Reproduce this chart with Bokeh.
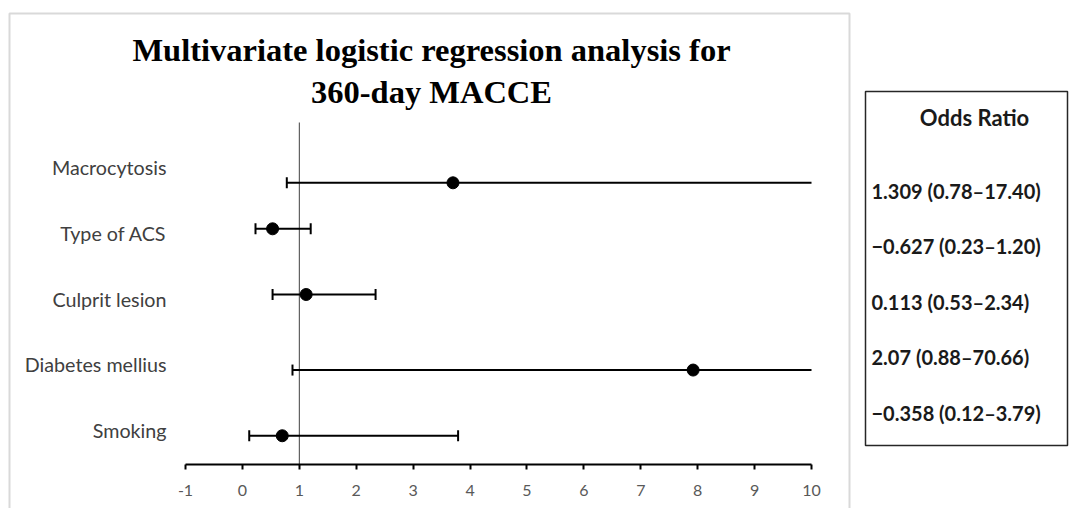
import math
from bokeh.plotting import figure
from bokeh.models import Range1d, FixedTicker
from bokeh.embed import file_html
from bokeh.resources import INLINE
from bokeh.core.properties import value

# ---------------- data ----------------
title_lines = ["Multivariate logistic regression analysis for", "360-day MACCE"]
variables = ["Macrocytosis", "Type of ACS", "Culprit lesion", "Diabetes mellius", "Smoking"]
odds_ratio = [3.70, 0.53, 1.12, 7.92, 0.70]
ci_lower = [0.78, 0.23, 0.53, 0.88, 0.12]
ci_upper = [17.40, 1.20, 2.34, 70.66, 3.79]
coef_text = ["1.309", "\u22120.627", "0.113", "2.07", "\u22120.358"]
label_rows = [5, 4, 3, 2, 1]
point_rows = [4.77, 4.07, 3.07, 1.92, 0.92]
x_ticks = [-1, 0, 1, 2, 3, 4, 5, 6, 7, 8, 9, 10]
x_tick_labels = ["-1", "0", "1", "2", "3", "4", "5", "6", "7", "8", "9", "10"]
table_header = "Odds Ratio"
reference_line = 1

table_text = [f"{c} ({lo:.2f}\u2013{hi:.2f})" for c, lo, hi in zip(coef_text, ci_lower, ci_upper)]

# ---------------- layout constants (pixels) ----------------
W, H = 1070, 508
AX_LEFT, AX_RIGHT = 185, 811          # pixel of x=-1 and x=10
AXIS_Y = 464                          # pixel of the x axis line
ROW1_Y, ROW_STEP = 430, 65.7          # pixel of label row 1 and row spacing
x_min, x_max = x_ticks[0], x_ticks[-1]
ux = (AX_RIGHT - AX_LEFT) / (x_max - x_min)
x_start = x_min - AX_LEFT / ux
x_end = x_max + (W - AX_RIGHT) / ux
y_start = 1 - (H - ROW1_Y) / ROW_STEP
y_end = 1 + ROW1_Y / ROW_STEP
axis_loc = 1 - (AXIS_Y - ROW1_Y) / ROW_STEP

p = figure(width=W, height=H, x_range=Range1d(x_start, x_end), y_range=Range1d(y_start, y_end),
           output_backend="svg", toolbar_location=None, y_axis_location=None)
p.extra_x_ranges = {"px": Range1d(0, W)}
p.extra_y_ranges = {"px": Range1d(H, 0)}
p.min_border = 0
p.min_border_left = 0
p.min_border_right = 0
p.min_border_top = 0
p.min_border_bottom = 0
p.outline_line_color = None
p.grid.visible = False
p.background_fill_color = "white"
p.border_fill_color = "white"

xa = p.xaxis[0]
xa.fixed_location = axis_loc
xa.bounds = (x_min, x_max)
xa.ticker = FixedTicker(ticks=x_ticks)
xa.major_label_overrides = {t: s for t, s in zip(x_ticks, x_tick_labels)}
xa.axis_line_color = "black"
xa.axis_line_width = 2
xa.major_tick_line_color = "black"
xa.major_tick_line_width = 2
xa.major_tick_out = 5
xa.major_tick_in = 0
xa.minor_tick_line_color = None
xa.major_label_text_font = "Lato"
xa.major_label_text_font_size = "16px"
xa.major_label_text_color = "#595959"
xa.major_label_standoff = 15

# outer light-grey chart border
p.quad(left=9, right=849, top=13, bottom=H + 20, x_range_name="px", y_range_name="px",
       fill_alpha=0, line_color="#d9d9d9", line_width=2)

# title
p.text(x=[431, 431], y=[49, 91], text=title_lines, x_range_name="px", y_range_name="px",
       text_align="center", text_baseline="middle", text_font=value("Liberation Serif"),
       text_font_style="bold", text_font_size="32.5px", text_color="black")

# reference line at OR = 1
p.segment(x0=reference_line, y0=122, x1=reference_line, y1=AXIS_Y, y_range_name="px",
          line_color="#404040", line_width=1)

# category labels
p.text(x=166, y=label_rows, text=variables, x_range_name="px", text_align="right",
       text_baseline="middle", text_font=value("Lato"), text_font_size="19.7px",
       text_color="#404040")

# error bars (clipped at the axis maximum, as in the original) and estimates
p.segment(x0=ci_lower, y0=point_rows, x1=[min(u, x_max) for u in ci_upper], y1=point_rows,
          line_color="black", line_width=2)
p.scatter(x=ci_lower, y=point_rows, marker="dash", angle=math.pi / 2, size=11,
          line_color="black", line_width=2)
cap_x = [u for u in ci_upper if u <= x_max]
cap_y = [r for u, r in zip(ci_upper, point_rows) if u <= x_max]
p.scatter(x=cap_x, y=cap_y, marker="dash", angle=math.pi / 2, size=11,
          line_color="black", line_width=2)
p.scatter(x=odds_ratio, y=point_rows, marker="circle", size=12,
          fill_color="black", line_color="black")

# odds ratio table box
p.quad(left=865, right=1067, top=91, bottom=445, x_range_name="px", y_range_name="px",
       fill_alpha=0, line_color="#262626", line_width=1.5)
p.text(x=[974], y=[117], text=[table_header], x_range_name="px", y_range_name="px",
       text_align="center", text_baseline="middle", text_font=value("Lato"),
       text_font_style="bold", text_font_size="22px", text_color="#1a1a1a")
p.text(x=871, y=[190 + 55.5 * i for i in range(len(table_text))], text=table_text,
       x_range_name="px", y_range_name="px", text_align="left", text_baseline="middle",
       text_font=value("Lato"), text_font_style="bold", text_font_size="20px",
       text_color="#1a1a1a")

open("out.html", "w").write(file_html(p, INLINE))
